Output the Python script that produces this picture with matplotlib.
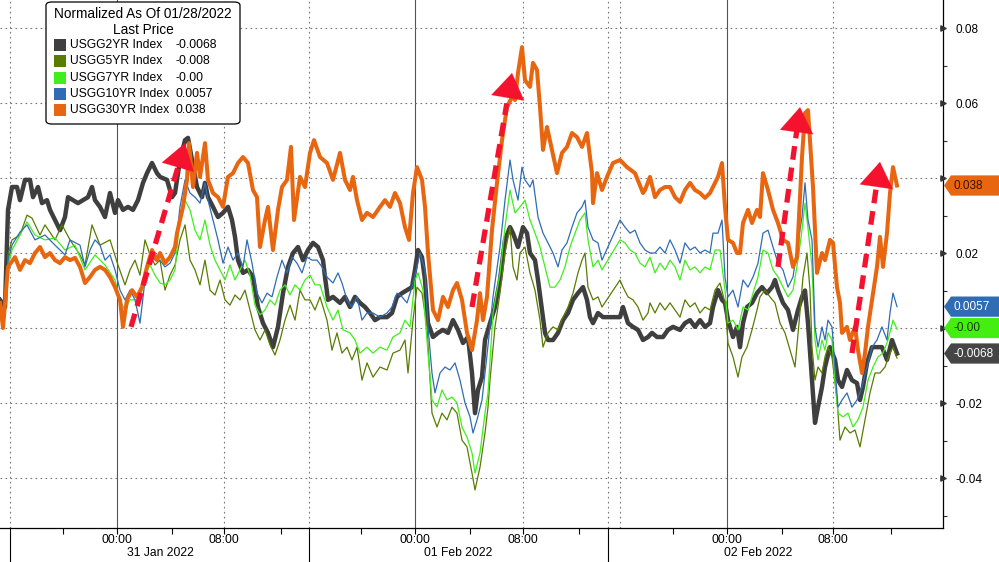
import numpy as np
import matplotlib
matplotlib.use("Agg")
import matplotlib.pyplot as plt
from matplotlib.patches import Polygon, FancyBboxPatch, Rectangle
from matplotlib.transforms import blended_transform_factory

plt.rcParams['font.family'] = ['Liberation Sans', 'DejaVu Sans']

# x = position on the session-compressed intraday axis, value in thousandths
s2 = [(0, 7.5), (5, 5.6), (8, 31.5), (12, 37.6), (17, 37.6), (20, 34.1), (25, 39.5), (30, 39.5), (33, 34.9), (38, 37.6),
      (42, 33.3), (47, 34.1), (50, 31.5), (55, 28.8), (60, 26.1), (65, 29.6), (68, 34.9), (73, 34.1), (78, 33.3), (83, 34.1),
      (88, 34.9), (92, 37.6), (95, 34.1), (100, 32.3), (105, 29.6), (110, 36.0), (115, 30.7), (118, 34.1), (123, 31.5), (128, 32.3),
      (133, 31.5), (138, 34.1), (143, 38.7), (147, 41.3), (152, 44.0), (157, 41.3), (160, 40.3), (167, 39.5), (172, 34.9), (175, 36.0),
      (180, 44.8), (185, 50.1), (188, 50.7), (192, 44.8), (197, 37.6), (202, 34.9), (205, 38.7), (208, 34.9), (213, 32.3), (218, 29.6),
      (223, 30.7), (228, 32.3), (232, 28.8), (235, 24.3), (238, 18.1), (243, 14.7), (248, 15.5), (253, 13.6), (258, 5.6), (263, 1.3),
      (268, -1.3), (273, -5.1), (278, 0.3), (283, 9.3), (288, 16.3), (293, 20.0), (298, 21.6), (303, 18.1), (308, 20.8), (313, 22.7),
      (318, 21.6), (323, 18.1), (325, 13.6), (328, 7.5), (333, 8.3), (340, 6.7), (345, 8.3), (350, 5.6), (355, 8.3), (360, 6.7),
      (365, 5.6), (370, 4.0), (375, 2.1), (380, 2.9), (387, 2.9), (392, 4.0), (397, 8.3), (402, 9.3), (407, 10.1), (412, 10.9),
      (415, 15.5), (418, 20.8), (422, 18.9), (425, 12.8), (428, 1.3), (433, -2.4), (438, -1.3), (443, -0.5), (448, -1.3), (453, 2.1),
      (458, -0.5), (463, -4.0), (468, -2.4), (472, -12.0), (475, -22.7), (478, -16.5), (482, -13.1), (485, -3.2), (490, 1.3), (495, 5.6),
      (500, 12.8), (505, 23.5), (510, 26.9), (513, 25.3), (518, 21.6), (523, 26.9), (527, 25.3), (530, 20.0), (535, 18.1), (538, 12.8),
      (542, 4.8), (545, -1.3), (548, -3.2), (553, -3.2), (558, -1.3), (563, 2.1), (568, 4.0), (573, 7.5), (578, 9.3), (583, 10.9),
      (587, 7.5), (590, 2.9), (593, 1.3), (598, 4.0), (603, 2.9), (620, 2.9), (623, 5.6), (628, 1.3), (633, 0.3), (638, -0.5),
      (643, -3.2), (648, -2.4), (652, -1.3), (657, -2.4), (663, -2.4), (668, -0.5), (673, 0.3), (680, -0.5), (685, 1.3), (690, 2.1),
      (695, 0.3), (700, 2.1), (705, 0.3), (710, 1.3), (713, 5.6), (718, 10.1), (722, 7.5), (725, 6.7), (728, 2.1), (733, -2.4),
      (737, 0.3), (740, -5.1), (743, 1.3), (747, 5.6), (752, 6.7), (757, 9.3), (762, 10.9), (767, 9.3), (772, 10.9), (775, 12.8),
      (778, 10.1), (783, 6.7), (788, 4.8), (793, -0.5), (798, 4.8), (802, 8.3), (805, 10.0), (808, 1.3), (812, -13.9), (815, -25.3),
      (818, -21.1), (822, -15.7), (825, -10.4), (830, -5.1), (835, -8.5), (838, -13.9), (842, -15.7), (847, -11.2), (852, -13.9), (857, -14.7),
      (860, -19.2), (863, -15.7), (867, -9.3), (872, -5.1), (877, -5.1), (882, -5.1), (887, -8.5), (892, -3.2), (897, -6.8)]

s5 = [(5, 4.0), (8, 19.5), (12, 23.5), (20, 24.8), (27, 30.1), (32, 29.3), (40, 24.8), (45, 27.5), (55, 23.5), (62, 27.5),
      (70, 23.5), (80, 19.5), (85, 16.8), (92, 27.5), (100, 22.1), (110, 23.5), (118, 16.8), (125, 11.5), (130, 15.5), (135, 18.1),
      (140, 14.1), (145, 23.5), (150, 19.5), (155, 16.8), (160, 18.1), (165, 10.1), (170, 14.1), (175, 16.8), (180, 23.5), (185, 27.5),
      (190, 18.1), (195, 15.5), (200, 11.5), (205, 18.1), (210, 10.1), (215, 8.8), (220, 12.8), (225, 7.5), (230, 6.1), (235, 8.8),
      (240, 7.5), (245, 10.1), (250, 4.8), (255, -0.5), (260, -3.2), (265, -0.5), (270, -4.5), (275, -7.2), (280, -3.2), (285, 2.1),
      (290, 6.1), (295, 2.1), (300, 10.1), (305, 7.5), (310, 7.5), (315, 4.8), (320, 8.3), (327, 2.1), (332, -5.9), (337, -1.3),
      (342, -6.7), (347, -5.1), (352, -8.5), (357, -5.1), (362, -13.9), (367, -9.3), (373, -13.1), (380, -10.4), (387, -11.2), (393, -6.7),
      (400, -5.9), (405, -3.2), (408, -12.0), (413, 2.1), (417, 10.9), (422, 9.3), (427, 0.3), (432, -22.7), (437, -26.4), (442, -22.7),
      (447, -24.5), (452, -21.1), (457, -22.7), (462, -29.9), (467, -31.7), (472, -38.7), (475, -43.2), (480, -37.1), (485, -28.0), (488, -21.1),
      (490, -13.9), (495, 0.3), (500, 9.3), (505, 20.0), (510, 26.9), (513, 16.3), (517, 12.8), (520, 20.0), (525, 21.6), (530, 14.7),
      (535, 10.1), (540, 2.1), (543, -5.1), (548, -1.3), (553, 0.3), (558, -0.5), (563, 2.9), (568, 5.6), (573, 9.3), (578, 14.7),
      (582, 18.1), (585, 20.0), (588, 10.9), (593, 7.5), (598, 8.3), (602, 5.6), (620, 12.8), (623, 10.9), (628, 8.3), (633, 7.5),
      (638, 5.6), (643, 2.1), (648, 4.0), (650, 6.7), (655, 4.0), (660, 6.7), (665, 4.8), (670, 6.7), (675, 4.8), (680, 2.9),
      (685, 7.5), (690, 5.6), (695, 6.7), (700, 4.0), (705, 5.6), (710, 4.8), (715, 10.1), (720, 12.0), (725, 6.7), (728, -4.0),
      (733, -7.7), (738, -13.1), (742, -7.7), (747, -5.1), (752, -0.5), (757, 4.8), (760, 8.3), (765, 10.1), (770, 8.3), (775, 6.7),
      (780, 1.3), (785, -1.3), (790, -5.9), (795, -10.4), (799, 1.3), (803, 13.6), (807, 20.0), (810, 10.1), (812, -5.1), (815, -13.9),
      (818, -10.4), (822, -12.0), (825, -7.7), (828, -5.1), (832, -7.7), (837, -19.2), (840, -29.9), (845, -26.4), (850, -28.0), (855, -27.2),
      (860, -31.7), (865, -24.5), (870, -17.3), (875, -12.0), (880, -12.0), (885, -10.4), (890, -6.7), (893, -5.1), (897, -8.0)]

s7 = [(5, 4.0), (8, 16.8), (12, 20.8), (20, 24.8), (27, 28.3), (35, 24.8), (45, 23.5), (55, 24.0), (65, 20.8), (75, 22.1),
      (85, 15.5), (95, 19.5), (105, 16.8), (115, 12.8), (120, 7.5), (125, 4.8), (130, 7.5), (140, 7.5), (145, 14.1), (150, 16.8),
      (155, 14.1), (160, 12.0), (165, 11.5), (170, 12.8), (175, 15.5), (180, 30.1), (185, 34.1), (190, 31.5), (195, 26.1), (200, 23.5),
      (205, 28.8), (210, 22.1), (215, 18.1), (220, 15.5), (225, 12.8), (230, 16.8), (235, 12.8), (240, 15.5), (245, 18.1), (250, 14.1),
      (255, 6.1), (260, 3.5), (265, 4.8), (270, 7.5), (275, 6.1), (280, 10.1), (285, 11.5), (290, 8.8), (295, 11.5), (300, 10.1),
      (305, 12.8), (310, 14.1), (315, 11.5), (320, 11.5), (327, 5.6), (333, 2.1), (338, 4.8), (343, -0.5), (350, -1.3), (355, -3.2),
      (360, -6.7), (367, -5.1), (373, -6.7), (380, -5.1), (387, -5.9), (393, -2.4), (400, -1.3), (405, 2.1), (410, 0.3), (415, 12.8),
      (418, 14.7), (423, 10.1), (428, -6.7), (432, -19.2), (437, -21.1), (442, -16.5), (447, -19.2), (452, -18.4), (457, -20.0), (462, -26.4),
      (467, -29.1), (472, -33.3), (475, -38.7), (480, -33.3), (485, -22.7), (488, -17.3), (493, 4.0), (500, 14.7), (505, 26.9), (510, 36.8),
      (515, 30.7), (520, 32.3), (525, 34.1), (530, 28.8), (535, 25.3), (540, 21.6), (545, 16.3), (550, 10.9), (555, 10.9), (560, 12.8),
      (565, 16.3), (570, 21.6), (575, 25.3), (580, 28.8), (585, 30.7), (588, 23.5), (593, 16.3), (598, 18.1), (602, 15.5), (620, 23.5),
      (625, 22.7), (630, 20.8), (635, 20.0), (640, 17.3), (645, 16.3), (650, 18.9), (655, 14.7), (660, 17.3), (665, 15.5), (670, 18.1),
      (675, 16.3), (680, 12.8), (685, 18.1), (690, 15.5), (695, 16.3), (700, 14.7), (705, 16.3), (710, 15.5), (715, 20.8), (720, 20.8),
      (725, 10.1), (728, 1.3), (733, 2.1), (738, -0.5), (743, 5.6), (748, 4.8), (753, 9.3), (758, 13.6), (763, 20.8), (768, 20.0),
      (773, 15.5), (778, 13.6), (783, 10.9), (788, 8.3), (793, 10.1), (798, 18.1), (802, 26.1), (805, 33.3), (808, 26.7), (812, 16.3),
      (815, -3.2), (818, -8.5), (822, -3.2), (825, -5.9), (828, -1.3), (832, -3.2), (835, -13.9), (838, -22.7), (843, -23.7), (848, -22.7),
      (853, -26.4), (858, -24.5), (863, -21.1), (868, -13.9), (873, -10.4), (878, -7.7), (883, -6.7), (888, -3.2), (893, 2.1), (897, -0.3)]

s10 = [(5, 4.5), (8, 18.1), (12, 22.1), (20, 25.6), (27, 27.5), (35, 23.5), (45, 24.8), (55, 22.1), (60, 20.8), (65, 19.5),
       (70, 23.5), (80, 22.1), (85, 16.3), (90, 20.8), (95, 23.5), (100, 22.1), (105, 18.1), (110, 19.5), (115, 15.5), (120, 10.1),
       (125, 7.5), (130, 10.1), (135, 7.5), (140, 1.3), (145, 12.8), (150, 19.5), (155, 18.1), (160, 18.1), (165, 16.3), (170, 17.3),
       (175, 20.0), (180, 32.3), (185, 39.5), (190, 36.0), (195, 34.9), (200, 33.3), (205, 38.7), (208, 34.1), (213, 28.8), (218, 23.5),
       (223, 17.3), (228, 21.6), (233, 18.1), (238, 20.0), (243, 16.3), (247, 23.5), (252, 17.3), (257, 9.3), (262, 6.7), (267, 9.3),
       (272, 8.3), (277, 13.6), (282, 18.1), (287, 14.7), (292, 18.9), (297, 17.3), (302, 14.7), (307, 18.9), (312, 18.1), (317, 18.1),
       (322, 16.3), (327, 13.6), (333, 12.0), (338, 14.7), (342, 12.0), (347, 7.5), (352, 5.6), (357, 8.3), (362, 2.1), (367, 4.0),
       (373, 4.0), (380, 2.9), (387, 4.0), (392, 5.6), (397, 9.3), (402, 8.3), (407, 6.7), (412, 10.9), (417, 16.3), (420, 20.0),
       (425, 15.5), (428, 0.3), (432, -12.0), (435, -17.3), (440, -12.0), (445, -10.4), (450, -11.2), (455, -9.3), (460, -13.9), (465, -20.0),
       (470, -23.7), (473, -28.0), (477, -24.5), (482, -19.2), (487, -7.2), (493, 8.3), (500, 21.6), (505, 34.1), (510, 44.8), (513, 39.5),
       (518, 34.1), (522, 42.9), (525, 39.5), (530, 37.6), (533, 39.5), (538, 29.6), (543, 25.3), (548, 22.7), (553, 20.0), (558, 16.3),
       (562, 20.8), (567, 22.7), (572, 26.9), (577, 30.7), (582, 32.3), (585, 34.1), (588, 26.9), (593, 23.5), (598, 22.7), (602, 18.1),
       (620, 28.8), (625, 26.9), (630, 25.3), (635, 26.1), (640, 22.7), (645, 20.8), (650, 20.0), (655, 20.0), (660, 21.6), (665, 20.0),
       (670, 23.5), (675, 20.8), (680, 17.3), (685, 22.7), (690, 20.8), (695, 21.6), (700, 20.0), (705, 20.8), (710, 20.0), (713, 25.3),
       (718, 25.3), (722, 28.8), (725, 13.6), (728, 8.3), (733, 10.1), (738, 5.6), (743, 12.8), (748, 10.9), (753, 13.6), (758, 17.3),
       (763, 25.3), (768, 26.1), (773, 21.6), (778, 17.3), (783, 15.5), (788, 10.9), (793, 13.6), (798, 22.7), (802, 29.6), (805, 38.7),
       (808, 28.8), (812, 23.5), (815, 0.3), (818, -5.1), (822, 0.3), (825, -3.2), (828, 2.1), (832, 0.3), (835, -10.4), (838, -21.1),
       (842, -19.2), (847, -17.3), (852, -21.1), (857, -19.2), (862, -15.7), (867, -10.4), (872, -5.1), (877, -3.2), (882, 0.3), (887, -3.2),
       (890, 4.0), (893, 9.3), (897, 5.7)]

s30 = [(0, 6.7), (3, 0.0), (8, 16.3), (15, 18.9), (20, 15.5), (25, 18.1), (30, 17.3), (35, 20.0), (40, 21.6), (45, 18.9),
       (50, 20.0), (55, 18.1), (60, 17.3), (65, 18.9), (70, 18.1), (75, 18.7), (80, 16.3), (85, 12.0), (90, 13.6), (95, 15.5),
       (100, 16.3), (105, 15.5), (110, 13.6), (115, 10.9), (120, 7.5), (123, 0.3), (127, 7.5), (132, 10.1), (137, 8.3), (142, 10.9),
       (147, 16.3), (152, 20.8), (157, 18.1), (160, 20.0), (165, 17.3), (170, 18.9), (175, 21.6), (177, 25.3), (180, 28.8), (183, 32.3),
       (187, 39.5), (189, 49.3), (193, 37.6), (197, 46.7), (200, 40.3), (205, 49.3), (208, 39.5), (213, 36.0), (218, 34.9), (223, 32.3),
       (228, 40.3), (233, 41.3), (238, 44.0), (243, 45.6), (248, 44.0), (253, 36.8), (257, 34.9), (260, 21.6), (265, 28.8), (268, 32.3),
       (273, 20.8), (278, 31.5), (282, 37.6), (287, 39.5), (291, 48.3), (294, 28.8), (300, 40.3), (305, 37.6), (310, 46.7), (314, 50.1),
       (320, 45.6), (327, 44.0), (333, 39.5), (340, 46.7), (345, 39.5), (350, 36.8), (353, 40.3), (357, 34.1), (362, 28.8), (367, 30.7),
       (373, 29.6), (380, 32.3), (385, 34.1), (390, 32.3), (395, 36.0), (400, 33.3), (405, 26.9), (409, 23.5), (413, 36.0), (417, 42.9),
       (422, 39.5), (425, 32.3), (428, 20.0), (433, 4.8), (438, 2.1), (443, 8.3), (448, 5.6), (453, 10.1), (457, 12.0), (462, 7.5),
       (467, -1.3), (472, -5.9), (477, 2.1), (480, 9.3), (483, 2.1), (487, 8.3), (492, 26.1), (497, 38.7), (502, 50.1), (507, 58.9),
       (512, 61.6), (515, 60.8), (518, 68.0), (522, 74.9), (525, 66.1), (530, 64.3), (533, 70.7), (537, 68.8), (540, 58.9), (543, 47.5),
       (547, 53.6), (552, 47.5), (557, 41.3), (562, 46.7), (567, 48.3), (572, 52.0), (577, 50.9), (582, 48.3), (587, 52.0), (592, 41.3),
       (593, 33.3), (597, 41.3), (602, 36.8), (607, 40.3), (613, 44.0), (620, 44.8), (627, 42.9), (635, 41.3), (643, 36.0), (645, 36.8),
       (650, 40.3), (655, 34.9), (660, 36.8), (665, 37.6), (670, 37.6), (675, 34.9), (680, 33.6), (685, 36.8), (690, 38.7), (695, 36.8),
       (700, 36.0), (705, 34.7), (710, 36.0), (715, 38.7), (718, 40.3), (722, 44.0), (725, 32.3), (728, 23.5), (733, 22.7), (737, 20.0),
       (740, 20.0), (743, 28.0), (748, 31.5), (752, 28.0), (757, 31.5), (760, 29.6), (763, 41.3), (768, 36.8), (773, 31.5), (778, 28.0),
       (783, 23.5), (788, 22.7), (793, 16.3), (797, 18.9), (802, 45.6), (805, 57.3), (808, 58.1), (813, 37.6), (817, 14.7), (822, 20.0),
       (825, 18.1), (830, 23.5), (833, 22.7), (837, 10.9), (840, 6.7), (842, -1.3), (847, 0.3), (850, -3.2), (855, 0.3), (858, -5.9),
       (862, -12.0), (865, -6.7), (868, 0.3), (872, 7.5), (877, 16.3), (880, 24.3), (883, 16.3), (887, 25.3), (890, 36.0), (893, 42.9),
       (897, 38.0)]

names = ['USGG2YR Index', 'USGG5YR Index', 'USGG7YR Index', 'USGG10YR Index', 'USGG30YR Index']
last = ['-0.0068', '-0.008', '-0.00', '0.0057', '0.038']
colors = ['#3f3f3f', '#587c00', '#3fee1c', '#2f6cb4', '#e8660f']
widths = [3.2, 0.9, 0.9, 0.9, 2.9]
series = [s2, s5, s7, s10, s30]

hour_ticks = [117, 224, 415, 523, 727, 833]
hour_labels = ['00:00', '08:00', '00:00', '08:00', '00:00', '08:00']
minor_x = [63, 172, 281, 361, 470, 579, 673, 782, 891]
day_centers = [160, 458, 758]
day_labels = ['31 Jan 2022', '01 Feb 2022', '02 Feb 2022']
session_breaks = [10, 309, 608]
midnights = [117, 415, 727]
dotted_x = [10, 224, 309, 523, 608, 620, 833]

# red arrows (tail, tip), value in thousandths
arrows = [((131, 0.3), (185, 49.3)), ((472, 5.6), (512, 68.0)),
          ((778, 16.3), (800, 58.9)), ((852, -6.7), (880, 44.3))]

# value tags on the right edge: value, text, face, text colour
tags = [(0.038, '0.038', '#e8660f', '#3a1400'), (0.0057, '0.0057', '#2f6cb4', 'white'),
        (0.0, '-0.00', '#44ee11', '#173d00'), (-0.0068, '-0.0068', '#454545', 'white')]

W, H = 999, 562
fig = plt.figure(figsize=(W / 100, H / 100), dpi=100)
ax = fig.add_axes([0, 1 - 528 / H, 943 / W, 528 / H])
ax.set_xlim(0, 943)
ax.set_ylim(-0.05333, 0.08747)

for x in dotted_x:
    ax.axvline(x, color='#777777', lw=0.8, ls=(0, (1.5, 3)), zorder=1)
for x in midnights:
    ax.axvline(x, color='#555555', lw=0.8, zorder=1)
for y in np.arange(-0.04, 0.081, 0.02):
    ax.axhline(y, color='#777777', lw=0.8, ls=(0, (1.5, 3)), zorder=1)

# thin ones first, then 2yr and 30yr on top
for i in [1, 2, 3, 0, 4]:
    arr = np.array(series[i])
    ax.plot(arr[:, 0], arr[:, 1] * 1e-3, color=colors[i], lw=widths[i], zorder=3 + i * 0.1)

for (x0, y0), (x1, y1) in arrows:
    y0, y1 = y0 * 1e-3, y1 * 1e-3
    xb = x0 + (x1 - x0) * 0.87
    yb = y0 + (y1 - y0) * 0.87
    ax.plot([x0, xb], [y0, yb], color='#f5122e', lw=3.8, ls=(0, (2.6, 1.5)),
            dash_capstyle='butt', zorder=6)
    ax.annotate('', xy=(x1, y1), xytext=(xb, yb),
                arrowprops=dict(arrowstyle='-|>,head_length=1.2,head_width=0.8', color='#f5122e',
                                lw=0.1, shrinkA=0, shrinkB=0, mutation_scale=15), zorder=6)

for side in ['left', 'top']:
    ax.spines[side].set_visible(False)
ax.spines['right'].set_linewidth(0.9)
ax.spines['bottom'].set_linewidth(0.9)

# 0.04 and 0 labels sit behind the value tags in the original
ax.yaxis.tick_right()
ax.set_yticks(np.arange(-0.04, 0.081, 0.02))
ax.set_yticklabels(['-0.04', '-0.02', '', '0.02', '', '0.06', '0.08'])
ax.set_yticks(np.arange(-0.05, 0.081, 0.01), minor=True)
ax.tick_params(axis='y', which='major', length=0, pad=9, labelsize=8.5)
ax.tick_params(axis='y', which='minor', length=3, width=0.8, color='#333333')
tri = blended_transform_factory(ax.transAxes, ax.transData)
ax.scatter([1.0] * 7, np.arange(-0.04, 0.081, 0.02), marker='>', s=14, color='#333333',
           transform=tri, clip_on=False, zorder=4)

ax.set_xticks(hour_ticks)
ax.set_xticklabels(hour_labels)
ax.set_xticks(minor_x, minor=True)
ax.tick_params(axis='x', which='major', length=4, width=0.8, pad=0, labelsize=8.7)
ax.tick_params(axis='x', which='minor', length=4, width=0.8)

xt = blended_transform_factory(ax.transData, fig.transFigure)
for c, lbl in zip(day_centers, day_labels):
    ax.text(c, 1 - 553 / H, lbl, transform=xt, ha='center', va='center', fontsize=8.7, clip_on=False)
for x in session_breaks:
    ax.plot([x, x], [0, (528 - H) / 528], transform=blended_transform_factory(ax.transData, ax.transAxes),
            color='black', lw=0.8, clip_on=False)

# right-hand value tags
tt = blended_transform_factory(fig.transFigure, ax.transData)
hh = 0.0027
for v, txt, face, tc in tags:
    xs = np.array([944, 951, 999, 999, 951]) / W
    ys = [v, v + hh, v + hh, v - hh, v - hh]
    ax.add_patch(Polygon(np.column_stack([xs, ys]), closed=True, transform=tt, facecolor=face,
                         edgecolor='none', clip_on=False, zorder=8))
    ax.text(953 / W, v, txt, transform=tt, ha='left', va='center', fontsize=8.5, color=tc,
            zorder=9, clip_on=False)

# legend box (pixel layout, origin top-left)
def P(x, y):
    return x / W, 1 - y / H

box = FancyBboxPatch(P(46, 124), 194 / W, 122 / H, boxstyle='round,pad=0,rounding_size=0.006',
                     transform=fig.transFigure, facecolor='white', edgecolor='black', lw=0.9, zorder=10)
fig.patches.append(box)
fig.text(*P(143, 14), 'Normalized As Of 01/28/2022', ha='center', va='center', fontsize=9.8, zorder=11)
fig.text(*P(143, 30), 'Last Price', ha='center', va='center', fontsize=9.8, zorder=11)
for k in range(5):
    yc = 45 + k * 16.3
    fig.patches.append(Rectangle(P(54, yc + 6), 12 / W, 12 / H, transform=fig.transFigure,
                                 facecolor=colors[k], edgecolor='none', zorder=11))
    fig.text(*P(70, yc), names[k], ha='left', va='center', fontsize=8.7, zorder=11)
    fig.text(*P(176, yc), last[k], ha='left', va='center', fontsize=8.7, zorder=11)

fig.savefig('out.png', dpi=100)
